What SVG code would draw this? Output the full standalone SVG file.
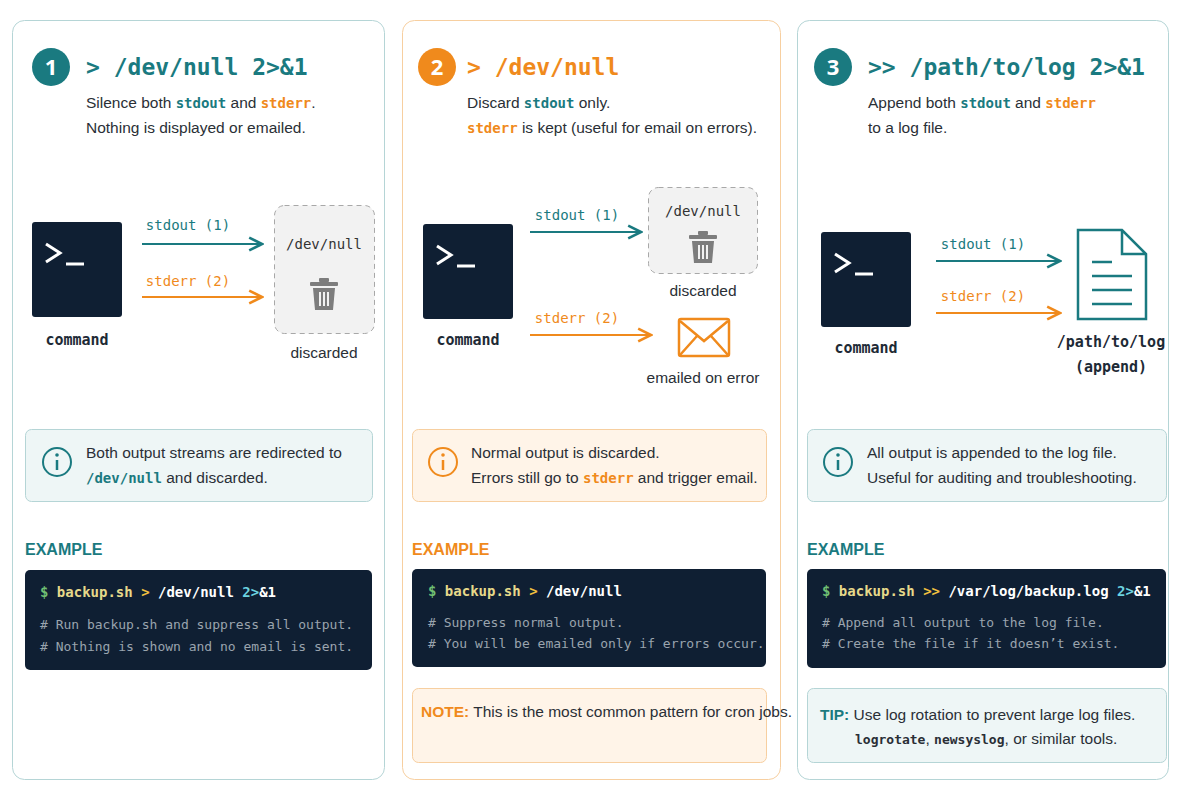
<svg xmlns="http://www.w3.org/2000/svg" width="1200" height="800" viewBox="0 0 1200 800">
<defs>
<style>
.s{font-family:"Liberation Sans","Noto Sans",sans-serif;font-size:15.5px;fill:#2a2f36}
.m{font-family:"DejaVu Sans Mono","Liberation Mono",monospace}
.t{fill:#1a7a80}.o{fill:#f08a1c}
.title{font-family:"DejaVu Sans Mono",monospace;font-size:23px;font-weight:bold}
.num{font-family:"Noto Sans",sans-serif;font-size:22px;font-weight:bold;fill:#fff}
.lbl{font-family:"DejaVu Sans Mono",monospace;font-size:14px}
.cmd{font-family:"DejaVu Sans Mono",monospace;font-size:15px;font-weight:bold;fill:#1e2a36}
.code{fill:#0f1f33}
.c1{font-family:"DejaVu Sans Mono",monospace;font-size:14px;font-weight:bold}
.cm{font-family:"DejaVu Sans Mono",monospace;font-size:13px;fill:#9aa4ae}
.ex{font-family:"Liberation Sans",sans-serif;font-size:16px;font-weight:bold}
.bt{fill:none;stroke:#1a7a80;stroke-width:2}
.bo{fill:none;stroke:#f08a1c;stroke-width:2}
</style>
<marker id="at" viewBox="0 0 10 10" refX="9" refY="5" markerWidth="8" markerHeight="8" orient="auto"><path d="M1,1 L9,5 L1,9" fill="none" stroke="#1a7a80" stroke-width="1.6"/></marker>
<marker id="ao" viewBox="0 0 10 10" refX="9" refY="5" markerWidth="8" markerHeight="8" orient="auto"><path d="M1,1 L9,5 L1,9" fill="none" stroke="#f08a1c" stroke-width="1.6"/></marker>
<g id="term"><rect width="90" height="95" rx="3" fill="#0f1f33"/><path d="M14,22 L28,31 L14,40" fill="none" stroke="#fff" stroke-width="3"/><line x1="34" y1="42" x2="52" y2="42" stroke="#fff" stroke-width="3"/></g>
<g id="trash" fill="#7d7d7d"><rect x="-14" y="-13" width="28" height="4" rx="1"/><rect x="-5" y="-17" width="10" height="4" rx="1"/><path d="M-11,-7 H11 L9,15 H-9 Z"/><g stroke="#f2f2f2" stroke-width="2"><line x1="-4" y1="-3" x2="-4" y2="11"/><line x1="0" y1="-3" x2="0" y2="11"/><line x1="4" y1="-3" x2="4" y2="11"/></g></g>
</defs>
<rect width="1200" height="800" fill="#fff"/>

<g id="panel1">
<rect x="12.5" y="20.5" width="372" height="759" rx="12" fill="#fff" stroke="#b5d5d6"/>
<circle cx="51" cy="67" r="19" fill="#1a7a80"/><text x="51" y="75" text-anchor="middle" class="num">1</text>
<text x="86" y="75" class="title t">&gt; /dev/null 2&gt;&amp;1</text>
<text x="86" y="108" class="s">Silence both <tspan class="m t" font-weight="bold" font-size="14">stdout</tspan> and <tspan class="m o" font-weight="bold" font-size="14">stderr</tspan>.</text>
<text x="86" y="133" class="s">Nothing is displayed or emailed.</text>
<use href="#term" x="32" y="222"/>
<text x="77" y="345" text-anchor="middle" class="cmd">command</text>
<text x="188" y="230" text-anchor="middle" class="lbl t">stdout (1)</text>
<text x="188" y="286" text-anchor="middle" class="lbl o">stderr (2)</text>
<rect x="274.5" y="205.5" width="100" height="128" rx="10" fill="#f2f2f2" stroke="#a8a8a8" stroke-dasharray="5 4"/>
<text x="324" y="249" text-anchor="middle" class="lbl" fill="#333">/dev/null</text>
<use href="#trash" x="324" y="295"/>
<text x="324" y="358" text-anchor="middle" class="s">discarded</text>
<rect x="25.5" y="429.5" width="347" height="72" rx="6" fill="#eef6f6" stroke="#b5d5d6"/>
<circle cx="57" cy="462" r="14" class="bt"/><circle cx="57" cy="455" r="1.8" class="t"/><line x1="57" y1="460" x2="57" y2="470" stroke="#1a7a80" stroke-width="2.5"/>
<text x="86" y="458" class="s">Both output streams are redirected to</text>
<text x="86" y="483" class="s"><tspan class="m t" font-weight="bold" font-size="14">/dev/null</tspan> and discarded.</text>
<text x="25" y="555" class="ex t">EXAMPLE</text>
<rect x="25" y="570" width="347" height="100" rx="5" class="code"/>
<text x="40" y="597" class="c1"><tspan fill="#6fbf73">$ </tspan><tspan fill="#e6d98a">backup.sh</tspan><tspan fill="#f0c040"> &gt; </tspan><tspan fill="#fff">/dev/null </tspan><tspan fill="#6cd3e0">2&gt;</tspan><tspan fill="#fff">&amp;1</tspan></text>
<text x="40" y="629" class="cm"># Run backup.sh and suppress all output.</text>
<text x="40" y="651" class="cm"># Nothing is shown and no email is sent.</text>
</g>

<g id="panel2">
<rect x="402.5" y="20.5" width="378" height="759" rx="12" fill="#fff" stroke="#f7cfa0"/>
<circle cx="437" cy="67" r="19" fill="#f08a1c"/><text x="437" y="75" text-anchor="middle" class="num">2</text>
<text x="467" y="75" class="title o">&gt; /dev/null</text>
<text x="467" y="108" class="s">Discard <tspan class="m t" font-weight="bold" font-size="14">stdout</tspan> only.</text>
<text x="467" y="133" class="s"><tspan class="m o" font-weight="bold" font-size="14">stderr</tspan> is kept (useful for email on errors).</text>
<use href="#term" x="423" y="224"/>
<text x="468" y="345" text-anchor="middle" class="cmd">command</text>
<text x="577" y="220" text-anchor="middle" class="lbl t">stdout (1)</text>
<text x="577" y="323" text-anchor="middle" class="lbl o">stderr (2)</text>
<rect x="648.5" y="187.5" width="109" height="86" rx="10" fill="#f2f2f2" stroke="#a8a8a8" stroke-dasharray="5 4"/>
<text x="703" y="216" text-anchor="middle" class="lbl" fill="#333">/dev/null</text>
<use href="#trash" x="703" y="248"/>
<text x="703" y="296" text-anchor="middle" class="s">discarded</text>
<g fill="none" stroke="#f08a1c" stroke-width="2.5"><rect x="679" y="319" width="50" height="37" rx="2"/><path d="M680,321 L704,341 L728,321 M680,355 L697,336 M728,355 L711,336"/></g>
<text x="703" y="383" text-anchor="middle" class="s">emailed on error</text>
<rect x="412.5" y="429.5" width="354" height="72" rx="6" fill="#fff4e8" stroke="#f7cfa0"/>
<circle cx="443" cy="462" r="14" class="bo"/><circle cx="443" cy="455" r="1.8" class="o"/><line x1="443" y1="460" x2="443" y2="470" stroke="#f08a1c" stroke-width="2.5"/>
<text x="471" y="458" class="s">Normal output is discarded.</text>
<text x="471" y="483" class="s">Errors still go to <tspan class="m o" font-weight="bold" font-size="14">stderr</tspan> and trigger email.</text>
<text x="412" y="555" class="ex o">EXAMPLE</text>
<rect x="412" y="569" width="354" height="98" rx="5" class="code"/>
<text x="428" y="596" class="c1"><tspan fill="#6fbf73">$ </tspan><tspan fill="#e6d98a">backup.sh</tspan><tspan fill="#f0c040"> &gt; </tspan><tspan fill="#fff">/dev/null</tspan></text>
<text x="428" y="627" class="cm"># Suppress normal output.</text>
<text x="428" y="648" class="cm"># You will be emailed only if errors occur.</text>
<rect x="412.5" y="688.5" width="354" height="74" rx="6" fill="#fff4e8" stroke="#f7cfa0"/>
<text x="421" y="717" class="s" font-size="14"><tspan class="o" font-weight="bold">NOTE:</tspan> This is the most common pattern for cron jobs.</text>
</g>

<g id="panel3">
<rect x="797.5" y="20.5" width="371" height="759" rx="12" fill="#fff" stroke="#b5d5d6"/>
<circle cx="833" cy="67" r="19" fill="#1a7a80"/><text x="833" y="75" text-anchor="middle" class="num">3</text>
<text x="868" y="75" class="title t">&gt;&gt; /path/to/log 2&gt;&amp;1</text>
<text x="868" y="108" class="s">Append both <tspan class="m t" font-weight="bold" font-size="14">stdout</tspan> and <tspan class="m o" font-weight="bold" font-size="14">stderr</tspan></text>
<text x="868" y="133" class="s">to a log file.</text>
<use href="#term" x="821" y="232"/>
<text x="866" y="353" text-anchor="middle" class="cmd">command</text>
<text x="983" y="249" text-anchor="middle" class="lbl t">stdout (1)</text>
<text x="983" y="301" text-anchor="middle" class="lbl o">stderr (2)</text>
<g fill="none" stroke="#1a7a80" stroke-width="2.5"><path d="M1078,230 H1122 L1146,254 V319 H1078 Z M1122,230 V254 H1146"/><path d="M1092,262 H1112 M1092,276 H1132 M1092,290 H1132 M1092,304 H1132"/></g>
<text x="1111" y="347" text-anchor="middle" class="cmd">/path/to/log</text>
<text x="1111" y="372" text-anchor="middle" class="cmd">(append)</text>
<rect x="807.5" y="429.5" width="359" height="72" rx="6" fill="#eef6f6" stroke="#b5d5d6"/>
<circle cx="838" cy="462" r="14" class="bt"/><circle cx="838" cy="455" r="1.8" class="t"/><line x1="838" y1="460" x2="838" y2="470" stroke="#1a7a80" stroke-width="2.5"/>
<text x="867" y="458" class="s">All output is appended to the log file.</text>
<text x="867" y="483" class="s">Useful for auditing and troubleshooting.</text>
<text x="807" y="555" class="ex t">EXAMPLE</text>
<rect x="807" y="569" width="359" height="99" rx="5" class="code"/>
<text x="822" y="596" class="c1"><tspan fill="#6fbf73">$ </tspan><tspan fill="#e6d98a">backup.sh</tspan><tspan fill="#f0c040"> &gt;&gt; </tspan><tspan fill="#fff">/var/log/backup.log </tspan><tspan fill="#6cd3e0">2&gt;</tspan><tspan fill="#fff">&amp;1</tspan></text>
<text x="822" y="627" class="cm"># Append all output to the log file.</text>
<text x="822" y="648" class="cm"># Create the file if it doesn’t exist.</text>
<rect x="807.5" y="688.5" width="359" height="74" rx="6" fill="#eef6f6" stroke="#b5d5d6"/>
<text x="820" y="720" class="s"><tspan class="t" font-weight="bold">TIP:</tspan> Use log rotation to prevent large log files.</text>
<text x="855" y="744" class="s"><tspan class="m" font-weight="bold" font-size="13">logrotate</tspan>, <tspan class="m" font-weight="bold" font-size="13">newsyslog</tspan>, or similar tools.</text>
</g>

<g id="connectors">
<line x1="142" y1="244" x2="262" y2="244" stroke="#1a7a80" stroke-width="2" marker-end="url(#at)"/>
<line x1="142" y1="297" x2="262" y2="297" stroke="#f08a1c" stroke-width="2" marker-end="url(#ao)"/>
<line x1="530" y1="232" x2="641" y2="232" stroke="#1a7a80" stroke-width="2" marker-end="url(#at)"/>
<line x1="530" y1="335" x2="651" y2="335" stroke="#f08a1c" stroke-width="2" marker-end="url(#ao)"/>
<line x1="936" y1="261" x2="1060" y2="261" stroke="#1a7a80" stroke-width="2" marker-end="url(#at)"/>
<line x1="936" y1="313" x2="1060" y2="313" stroke="#f08a1c" stroke-width="2" marker-end="url(#ao)"/>
</g>
</svg>
